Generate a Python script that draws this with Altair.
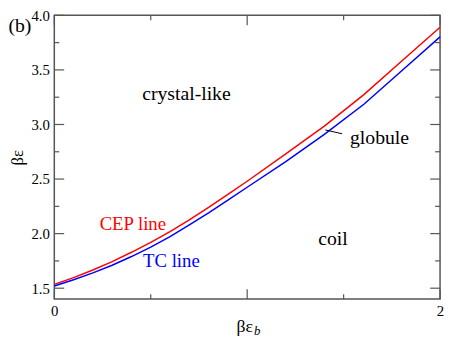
import altair as alt
import pandas as pd

# ---- data ----
cep_x = [0, 0.1, 0.2, 0.3, 0.4, 0.5, 0.6, 0.7, 0.8, 0.9, 1.0, 1.2, 1.4, 1.605, 1.8, 2.0]
cep_y = [1.535, 1.597, 1.667, 1.744, 1.829, 1.920, 2.019, 2.126, 2.240, 2.360, 2.48,
         2.73, 2.985, 3.274, 3.58, 3.891]
tc_x = [0, 0.1, 0.2, 0.3, 0.4, 0.5, 0.6, 0.7, 0.8, 0.9, 1.0, 1.2, 1.4, 1.605, 1.8, 2.0]
tc_y = [1.52, 1.577, 1.64, 1.71, 1.79, 1.876, 1.973, 2.08, 2.19, 2.307, 2.425,
        2.66, 2.91, 3.185, 3.49, 3.803]

x_labels = [0, 1, 2]
x_minor = [0.5, 1.5]
y_labels = [1.5, 2.0, 2.5, 3.0, 3.5, 4.0]
y_minor = [1.75, 2.25, 2.75, 3.25, 3.75]

region_text = ["crystal-like", "coil"]
region_x = [0.685, 1.445]
region_y = [3.274, 1.950]

glob_text = ["globule"]
glob_x = [1.533]
glob_y = [2.876]
leader = {"x": [1.405], "y": [2.950], "x2": [1.492], "y2": [2.915]}

cep_label = (["CEP line"], [0.235], [2.091])
tc_label = (["TC line"], [0.46], [1.749])
panel_label = (["(b)"], [-0.238], [3.90])
xtitle_main = (["βε"], [1.03], [1.144])
xtitle_sub = (["b"], [1.035], [1.11])

W, H = 391.5, 288
SERIF = "Times New Roman"
FRAME = "#555555"

xscale = alt.Scale(domain=[0, 2], nice=False, zero=False)
yscale = alt.Scale(domain=[1.4, 4.0], nice=False, zero=False)
xaxis = alt.Axis(values=x_labels, format="d", ticks=False, tickSize=0, domain=False,
                 grid=False, title=None, labelPadding=5, labelFlush=False,
                 labelOverlap=False, labelFont=SERIF)
yaxis = alt.Axis(values=y_labels, format=".1f", ticks=False, tickSize=0, domain=False,
                 grid=False, title="βε", labelPadding=5, labelFlush=False,
                 labelOverlap=False, labelFont=SERIF, titleFont=SERIF, titleFontSize=17,
                 titleFontWeight="normal", titleX=-37, titleY=H / 2,
                 titleBaseline="middle", titleAlign="center", titleAngle=-90)


def X(f):
    return alt.X(f, type="quantitative", scale=xscale, axis=xaxis)


def Y(f):
    return alt.Y(f, type="quantitative", scale=yscale, axis=yaxis)


cep_df = pd.DataFrame({"x": cep_x, "y": cep_y})
tc_df = pd.DataFrame({"x": tc_x, "y": tc_y})

cep = alt.Chart(cep_df).mark_line(color="#ff0000", strokeWidth=1.5).encode(
    x=X("x"), y=Y("y"))
tc = alt.Chart(tc_df).mark_line(color="#0000ff", strokeWidth=1.5).encode(
    x=X("x"), y=Y("y"))

layers = [cep, tc]

# inward ticks on all four sides
for vals, ln in [(y_labels, 10), (y_minor, 5)]:
    d = pd.DataFrame({"v": vals})
    layers.append(alt.Chart(d).mark_rule(color=FRAME, strokeWidth=1.2).encode(
        y=Y("v"), x=alt.value(0), x2=alt.value(ln)))
    layers.append(alt.Chart(d).mark_rule(color=FRAME, strokeWidth=1.2).encode(
        y=Y("v"), x=alt.value(W), x2=alt.value(W - ln)))
for vals, ln in [(x_labels, 10), (x_minor, 5)]:
    d = pd.DataFrame({"v": vals})
    layers.append(alt.Chart(d).mark_rule(color=FRAME, strokeWidth=1.2).encode(
        x=X("v"), y=alt.value(H), y2=alt.value(H - ln)))
    layers.append(alt.Chart(d).mark_rule(color=FRAME, strokeWidth=1.2).encode(
        x=X("v"), y=alt.value(0), y2=alt.value(ln)))


def text_layer(t, xs, ys, size, color="black", align="center", italic=False):
    d = pd.DataFrame({"t": t, "x": xs, "y": ys})
    kw = dict(font=SERIF, fontSize=size, color=color, align=align, baseline="middle")
    if italic:
        kw["fontStyle"] = "italic"
    return alt.Chart(d).mark_text(**kw).encode(x=X("x"), y=Y("y"), text="t:N")


layers.append(text_layer(region_text, region_x, region_y, 20))
layers.append(text_layer(glob_text, glob_x, glob_y, 20, align="left"))
layers.append(text_layer(*cep_label, 19, color="#ff0000", align="left"))
layers.append(text_layer(*tc_label, 19, color="#0000ff", align="left"))
layers.append(text_layer(*panel_label, 20, align="left"))
layers.append(text_layer(*xtitle_main, 18, align="right"))
layers.append(text_layer(*xtitle_sub, 13, align="left", italic=True))

ld = pd.DataFrame(leader)
layers.append(alt.Chart(ld).mark_rule(color="black", strokeWidth=1).encode(
    x=X("x"), y=Y("y"), x2="x2", y2="y2"))

chart = alt.layer(*layers).properties(
    width=W, height=H,
    autosize=alt.AutoSizeParams(type="none"),
    padding={"left": 47, "top": 5, "right": 4, "bottom": 36},
).configure(
    font=SERIF
).configure_view(
    stroke=FRAME, strokeWidth=1.5
).configure_text(
    font=SERIF
).configure_axis(
    labelFont=SERIF, labelFontSize=15, labelColor="black"
)

chart.save("out.html", embed_options={"renderer": "svg", "actions": False})
